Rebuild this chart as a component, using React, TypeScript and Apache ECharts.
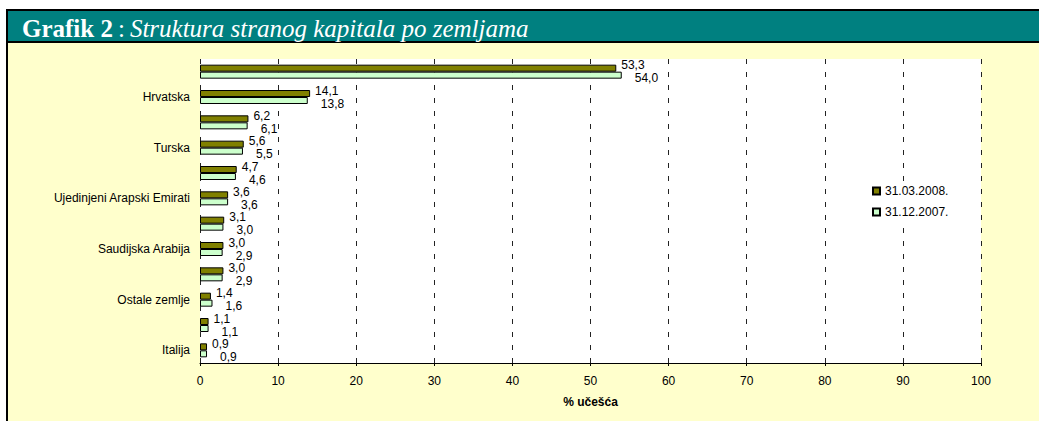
import { useEffect, useRef } from "react";
import * as echarts from "echarts";

// Categories from top to bottom (every other label is hidden, as in the original)
const categories = [
  "Mađarska",
  "Hrvatska",
  "Slovenija",
  "Turska",
  "Austrija",
  "Ujedinjeni Arapski Emirati",
  "Srbija",
  "Saudijska Arabija",
  "Kipar",
  "Ostale zemlje",
  "Švajcarska",
  "Italija",
];
const seriesNames = ["31.03.2008.", "31.12.2007."];
const values2008 = [53.3, 14.1, 6.2, 5.6, 4.7, 3.6, 3.1, 3.0, 3.0, 1.4, 1.1, 0.9];
const values2007 = [54.0, 13.8, 6.1, 5.5, 4.6, 3.6, 3.0, 2.9, 2.9, 1.6, 1.1, 0.9];
const xMin = 0;
const xMax = 100;
const xInterval = 10;
const xAxisName = "% učešća";
const titleBold = "Grafik 2";
const titleItalic = "Struktura stranog kapitala po zemljama";

const fmt = (v: number) => v.toFixed(1).replace(".", ",");

export default function App() {
  const ref = useRef<HTMLDivElement>(null);
  useEffect(() => {
    if (!ref.current) return;
    const chart = echarts.init(ref.current, undefined, { renderer: "svg" });
    const W = 1039;
    const H = 421;
    const serif = "Liberation Serif, Times New Roman, serif";
    chart.setOption({
      animation: false,
      backgroundColor: "#FFFFCC",
      textStyle: { fontFamily: "Liberation Sans, Arial, sans-serif" },
      graphic: [
        { type: "rect", shape: { x: 0, y: 0, width: W, height: 9 }, style: { fill: "#ffffff" }, z: -1 },
        { type: "rect", shape: { x: 0, y: 0, width: 6, height: H }, style: { fill: "#ffffff" }, z: -1 },
        { type: "rect", shape: { x: 6, y: 9, width: W - 6, height: 34 }, style: { fill: "#000000" }, z: -1 },
        { type: "rect", shape: { x: 8, y: 11, width: W - 8, height: 30 }, style: { fill: "#008080" }, z: -1 },
        { type: "rect", shape: { x: 6, y: 9, width: 2, height: H - 9 }, style: { fill: "#000000" }, z: -1 },
      ],
      title: {
        text: `{b|${titleBold}} {n|:} {i|${titleItalic}}`,
        left: 17,
        top: 11,
        z: 20,
        textStyle: {
          fontWeight: "normal",
          rich: {
            b: { fontFamily: serif, fontWeight: "bold", fontSize: 25, color: "#ffffff" },
            n: { fontFamily: serif, fontWeight: "normal", fontSize: 25, color: "#ffffff" },
            i: { fontFamily: serif, fontWeight: "normal", fontStyle: "italic", fontSize: 25, color: "#ffffff" },
          },
        },
      },
      legend: {
        data: seriesNames,
        orient: "vertical",
        left: 868,
        top: 181,
        padding: [4, 10, 4, 4],
        backgroundColor: "#ffffff",
        itemWidth: 7,
        itemHeight: 7,
        itemGap: 9,
        icon: "rect",
        textStyle: { fontSize: 12, color: "#000000" },
        z: 10,
      },
      grid: { left: 200, right: 58, top: 59, bottom: 58, backgroundColor: "#ffffff", show: true, borderWidth: 0 },
      xAxis: {
        type: "value",
        min: xMin,
        max: xMax,
        interval: xInterval,
        name: xAxisName,
        nameLocation: "middle",
        nameGap: 33,
        nameTextStyle: { fontWeight: "bold", fontSize: 12, color: "#000000" },
        axisLine: { show: true, lineStyle: { color: "#000000", width: 1 } },
        axisTick: { show: true, length: 3, lineStyle: { color: "#000000" } },
        axisLabel: { fontSize: 12, color: "#000000", margin: 12 },
        splitLine: { show: true, lineStyle: { color: "#222222", type: [5, 8], width: 1 } },
      },
      yAxis: {
        type: "category",
        data: categories,
        inverse: true,
        axisLine: { show: false },
        axisTick: { show: false },
        axisLabel: {
          fontSize: 12,
          color: "#000000",
          margin: 10,
          interval: (i: number) => i % 2 === 1,
        },
      },
      series: [
        {
          name: seriesNames[0],
          type: "bar",
          data: values2008,
          barWidth: 7,
          barGap: "0%",
          itemStyle: { color: "#808000", borderColor: "#000000", borderWidth: 1 },
          label: {
            show: true,
            position: "right",
            distance: 3,
            offset: [2, -3],
            fontSize: 12,
            lineHeight: 12,
            color: "#000000",
            formatter: (p: any) => fmt(p.value),
          },
        },
        {
          name: seriesNames[1],
          type: "bar",
          data: values2007,
          barWidth: 7,
          barGap: "0%",
          itemStyle: { color: "#CCFFCC", borderColor: "#000000", borderWidth: 1 },
          label: {
            show: true,
            position: "right",
            distance: 3,
            offset: [10, 3],
            fontSize: 12,
            lineHeight: 12,
            color: "#000000",
            formatter: (p: any) => fmt(p.value),
          },
        },
      ],
    });
    return () => chart.dispose();
  }, []);
  return (
    <div
      ref={ref}
      style={{ position: "fixed", left: 0, top: 0, width: 1039, height: 421 }}
    />
  );
}
